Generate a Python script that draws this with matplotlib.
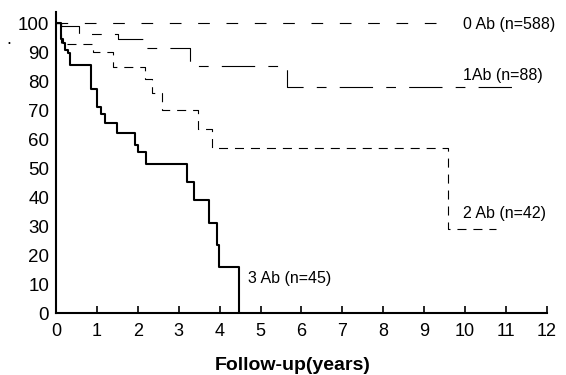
import matplotlib
matplotlib.use("Agg")
import matplotlib.pyplot as plt

plt.rcParams['font.family'] = ['Liberation Sans', 'DejaVu Sans']
plt.rcParams['lines.scale_dashes'] = False

# Kaplan-Meier style curves (years, % event-free)
t0 = [0, 9.6]
s0 = [100, 100]

t1 = [0, 0.13, 0.55, 1.52, 2.22, 3.28, 5.64, 11.14]
s1 = [100, 99.1, 96.4, 94.5, 91.6, 85.2, 78.1, 78.1]

t2 = [0, 0.12, 0.91, 1.39, 2.18, 2.34, 2.60, 3.48, 3.81, 9.59, 10.77]
s2 = [100, 92.7, 90.1, 84.9, 80.6, 76.0, 70.2, 63.6, 57.0, 29.1, 29.1]

t3 = [0, 0.13, 0.18, 0.22, 0.29, 0.34, 0.85, 0.99, 1.10, 1.20, 1.48,
      1.93, 2.01, 2.20, 3.20, 3.37, 3.74, 3.94, 3.99, 4.48]
s3 = [100, 94.7, 93.3, 90.8, 89.6, 85.6, 77.4, 71.0, 68.8, 65.6, 62.2,
      58.1, 55.5, 51.5, 45.2, 38.9, 31.2, 23.5, 16.0, 0]

labels = ['0 Ab (n=588)', '1Ab (n=88)', '2 Ab (n=42)', '3 Ab (n=45)']
label_pos = [(9.95, 99.7), (9.95, 82.0), (9.95, 34.5), (4.7, 12.0)]

xticks = list(range(0, 13))
yticks = list(range(0, 101, 10))

fig = plt.figure(figsize=(5.66, 3.75), dpi=100)
ax = fig.add_axes([0.099, 0.165, 0.867, 0.804])

ax.step(t0, s0, where='post', color='black', lw=0.8, linestyle=(0, (8.4, 12)))
ax.step(t1, s1, where='post', color='black', lw=0.8,
        linestyle=(0, (24, 9.5, 7, 9.5)))
ax.step(t2, s2, where='post', color='black', lw=0.8, linestyle=(0, (6.5, 5)))
ax.step(t3, s3, where='post', color='black', lw=1.5)

for txt, (x, y) in zip(labels, label_pos):
    ax.text(x, y, txt, fontsize=11.5, va='center', ha='left')

ax.set_xlim(0, 12)
ax.set_ylim(0, 104)
ax.set_xticks(xticks)
ax.set_yticks(yticks)
ax.tick_params(axis='x', direction='in', length=5, width=1.2, pad=7, labelsize=13)
ax.tick_params(axis='y', length=0, pad=5, labelsize=13.5)
for side in ('top', 'right'):
    ax.spines[side].set_visible(False)
for side in ('left', 'bottom'):
    ax.spines[side].set_linewidth(1.5)

fig.text(0.517, 0.024, 'Follow-up(years)', fontsize=14, fontweight='bold',
         ha='center', va='center')
fig.text(9 / 566, 1 - 48 / 375, '.', fontsize=13, ha='center', va='bottom')

fig.savefig('out.png', dpi=100)
